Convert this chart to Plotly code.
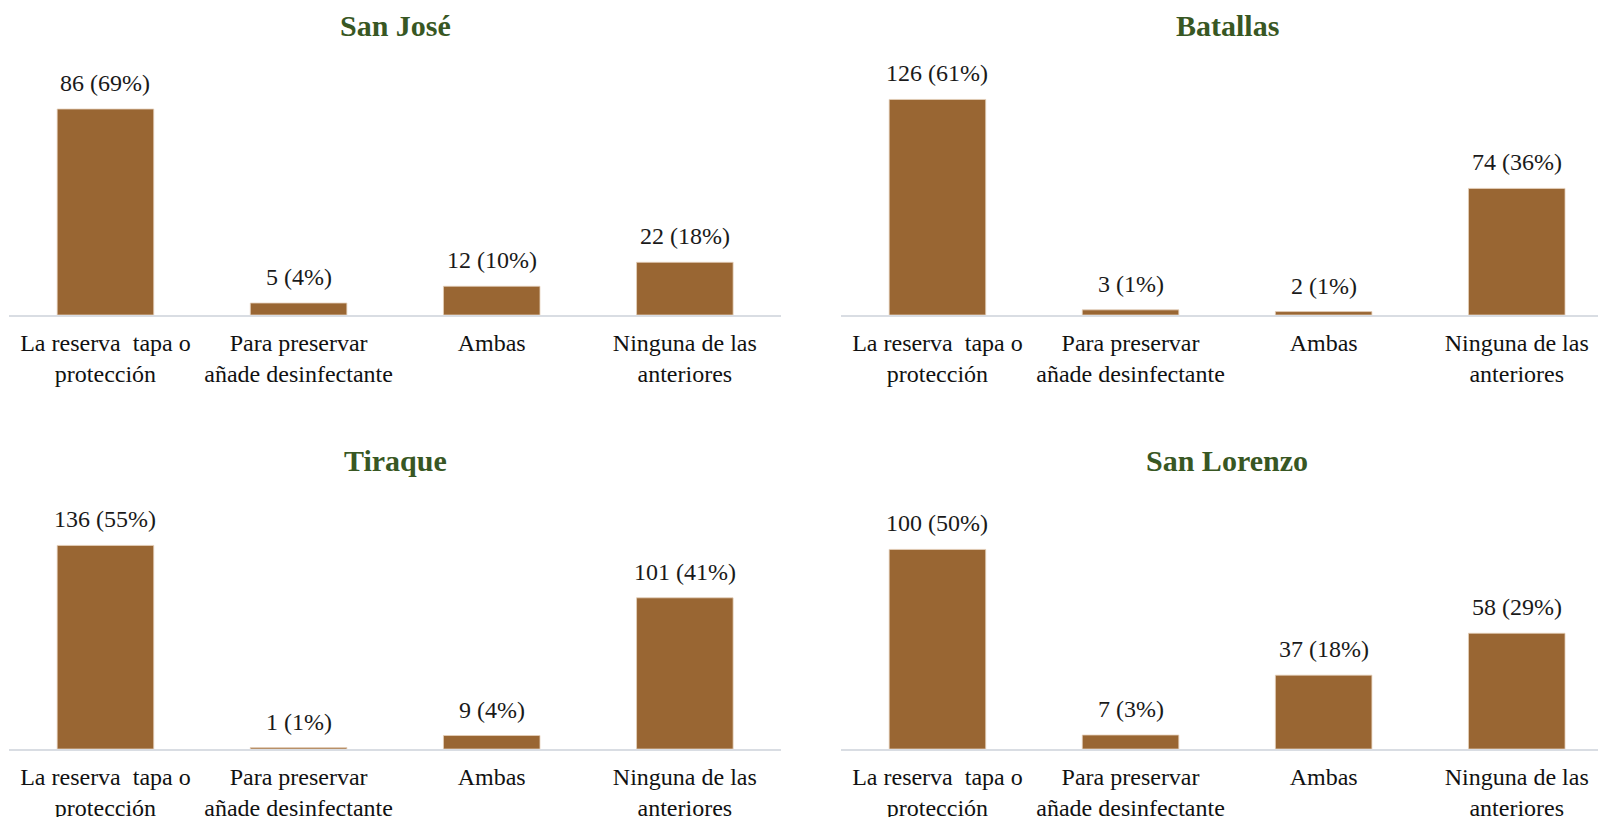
import plotly.graph_objects as go

categories = [
    "La reserva\u00a0 tapa o<br>protección",
    "Para preservar<br>añade desinfectante",
    "Ambas",
    "Ninguna de las<br>anteriores",
]

titles = ["San José", "Batallas", "Tiraque", "San Lorenzo"]
counts_san_jose = [86, 5, 12, 22]
pct_san_jose = [69, 4, 10, 18]
counts_batallas = [126, 3, 2, 74]
pct_batallas = [61, 1, 1, 36]
counts_tiraque = [136, 1, 9, 101]
pct_tiraque = [55, 1, 4, 41]
counts_san_lorenzo = [100, 7, 37, 58]
pct_san_lorenzo = [50, 3, 18, 29]
y_max = [100, 140, 160, 120]

panels = [
    (counts_san_jose, pct_san_jose),
    (counts_batallas, pct_batallas),
    (counts_tiraque, pct_tiraque),
    (counts_san_lorenzo, pct_san_lorenzo),
]

W, H = 1598, 817
BAR = "#996633"
FONT = "Liberation Serif, Times New Roman, serif"

# panel geometry (pixels)
left_x = (8.9, 781.4)
right_x = (840.9, 1598.0)
top_y = (75.5, 315.0)
bot_y = (509.5, 749.0)
spacing = 193.1
right_range_end = -0.5 + (right_x[1] - right_x[0]) / spacing

geoms = [
    (left_x, top_y, 3.5),
    (right_x, top_y, right_range_end),
    (left_x, bot_y, 3.5),
    (right_x, bot_y, right_range_end),
]
title_y_px = [25.5, 25.5, 460.6, 460.6]
title_x_px = [395.0, 1227.0, 395.0, 1227.0]

fig = go.Figure()
annotations = []
for i, ((counts, pcts), (gx, gy, rend)) in enumerate(zip(panels, geoms)):
    n = i + 1
    xa = "x" if n == 1 else f"x{n}"
    ya = "y" if n == 1 else f"y{n}"
    fig.add_trace(go.Bar(
        x=list(range(len(categories))), y=counts,
        xaxis=xa, yaxis=ya,
        marker=dict(color=BAR, line=dict(color="#E6D2BC", width=0.8)),
        width=0.5, showlegend=False, hoverinfo="skip",
    ))
    xkey = "xaxis" if n == 1 else f"xaxis{n}"
    ykey = "yaxis" if n == 1 else f"yaxis{n}"
    fig.update_layout(**{
        xkey: dict(
            domain=[gx[0] / W, gx[1] / W], anchor=ya,
            range=[-0.5, rend],
            tickmode="array", tickvals=list(range(len(categories))), ticktext=categories,
            showline=True, linecolor="#D9DDE3", linewidth=2,
            showgrid=False, zeroline=False, ticks="",
            tickfont=dict(family=FONT, size=24, color="#111111"),
            ticklabelstandoff=5, automargin=False,
            fixedrange=True,
        ),
        ykey: dict(
            domain=[1 - gy[1] / H, 1 - gy[0] / H], anchor=xa,
            range=[0, y_max[i]], visible=False, fixedrange=True, automargin=False,
        ),
    })
    for j, (c, p) in enumerate(zip(counts, pcts)):
        annotations.append(dict(
            x=j, y=c, xref=xa, yref=ya, text=f"{c} ({p}%)",
            showarrow=False, yanchor="bottom", xanchor="center", yshift=11,
            font=dict(family=FONT, size=24, color="#1a1a1a"),
        ))
    annotations.append(dict(
        x=title_x_px[i] / W, y=1 - title_y_px[i] / H, xref="paper", yref="paper",
        text=f"<b>{titles[i]}</b>", showarrow=False, xanchor="center", yanchor="middle",
        font=dict(family=FONT, size=30, color="#385723"),
    ))

fig.update_layout(
    width=W, height=H, margin=dict(l=0, r=0, t=0, b=0, autoexpand=False),
    paper_bgcolor="white", plot_bgcolor="white",
    annotations=annotations, bargap=0.5,
)
fig.write_html(
    "out.html",
    config={"displayModeBar": False},
    post_script="document.body.style.margin='0';document.body.style.overflow='hidden';",
)
